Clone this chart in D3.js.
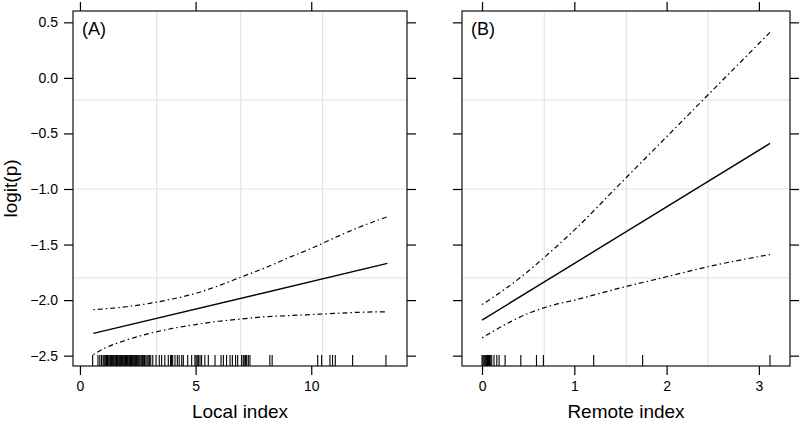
<!DOCTYPE html>
<html>
<head>
<meta charset="utf-8">
<title>logit(p) against Local and Remote index</title>
<script src="https://cdn.jsdelivr.net/npm/d3@7"></script>
<style>
  body { margin: 0; background: #fff; }
  svg text { font-family: "Liberation Sans", Arial, Helvetica, sans-serif; fill: #000; }
</style>
</head>
<body>
<script>
// ---- data ----
const yTicks = [0.5, 0.0, -0.5, -1.0, -1.5, -2.0, -2.5];
const yGrid = [-0.2, -1.0, -1.8];

// panel A: Local index
const localTicks = [0, 5, 10];
const localGrid = [3.32, 6.95, 10.49];
const localFitX = [0.58, 13.29];
const localFitY = [-2.30, -1.67];
const localBandX = [0.58, 1, 2, 3, 4, 5, 6, 7, 8, 9, 10, 11, 12, 13.29];
const localUpper = [-2.085, -2.08, -2.06, -2.03, -1.99, -1.94, -1.87, -1.79, -1.71, -1.62, -1.535, -1.44, -1.35, -1.25];
const localLower = [-2.49, -2.44, -2.36, -2.30, -2.255, -2.22, -2.19, -2.17, -2.15, -2.14, -2.13, -2.12, -2.11, -2.105];
const localRug = [0.55, 0.78, 0.86, 0.93, 1.00, 1.04, 1.08, 1.12, 1.15, 1.19, 1.22, 1.26, 1.30, 1.33,
  1.37, 1.40, 1.44, 1.47, 1.51, 1.55, 1.58, 1.62, 1.65, 1.69, 1.72, 1.76, 1.80, 1.83, 1.87, 1.90,
  1.94, 1.97, 2.01, 2.05, 2.08, 2.12, 2.15, 2.19, 2.23, 2.26, 2.30, 2.33, 2.37, 2.41, 2.44, 2.48,
  2.52, 2.56, 2.60, 2.65, 2.70, 2.74, 2.79, 2.85, 2.90, 2.95, 3.00, 3.06, 3.15, 3.29, 3.43, 3.53,
  3.67, 3.82, 3.92, 3.96, 4.01, 4.11, 4.21, 4.29, 4.40, 4.47, 4.66, 4.83, 4.97, 5.02, 5.07, 5.12,
  5.19, 5.26, 5.40, 5.55, 5.84, 6.10, 6.20, 6.34, 6.49, 6.59, 6.73, 6.82, 6.99, 7.06, 7.10, 7.16,
  7.21, 7.28, 7.35, 8.21, 8.31, 10.28, 10.45, 10.81, 10.92, 11.04, 11.79, 13.23];

// panel B: Remote index
const remoteTicks = [0, 1, 2, 3];
const remoteGrid = [0.675, 1.565, 2.45];
const remoteFitX = [0, 3.12];
const remoteFitY = [-2.18, -0.59];
const remoteBandX = [0, 0.25, 0.5, 0.75, 1, 1.5, 2, 2.5, 3.12];
const remoteUpper = [-2.04, -1.90, -1.74, -1.56, -1.37, -0.95, -0.53, -0.11, 0.41];
const remoteLower = [-2.34, -2.22, -2.12, -2.05, -2.00, -1.89, -1.79, -1.69, -1.59];
const remoteRug = [0.0, 0.01, 0.02, 0.03, 0.04, 0.05, 0.06, 0.07, 0.08, 0.09,
  0.105, 0.13, 0.16, 0.185, 0.25, 0.42, 0.59, 0.665, 1.21, 1.74, 3.12];

// ---- layout ----
const W = 802, H = 425;
const plotTop = 11, plotBottom = 366;

const svg = d3.select("body").append("svg")
  .attr("width", W).attr("height", H);

const y = d3.scaleLinear().domain([-2.593, 0.602]).range([plotBottom, plotTop]);

const panels = [
  { label: "(A)", title: "Local index", left: 73, right: 407, domain: [-0.30, 14.14],
    ticks: localTicks, grid: localGrid, fitX: localFitX, fitY: localFitY,
    bandX: localBandX, upper: localUpper, lower: localLower, rug: localRug, yLabels: true },
  { label: "(B)", title: "Remote index", left: 462, right: 790, domain: [-0.217, 3.337],
    ticks: remoteTicks, grid: remoteGrid, fitX: remoteFitX, fitY: remoteFitY,
    bandX: remoteBandX, upper: remoteUpper, lower: remoteLower, rug: remoteRug, yLabels: false }
];

const tickLen = 9;

panels.forEach(function (p) {
  const x = d3.scaleLinear().domain(p.domain).range([p.left, p.right]);
  const g = svg.append("g");

  // grid
  g.selectAll(".vg").data(p.grid).enter().append("line")
    .attr("x1", d => x(d)).attr("x2", d => x(d))
    .attr("y1", plotTop).attr("y2", plotBottom)
    .attr("stroke", "#e4e4e4").attr("stroke-width", 1.2);
  g.selectAll(".hg").data(yGrid).enter().append("line")
    .attr("x1", p.left).attr("x2", p.right)
    .attr("y1", d => y(d)).attr("y2", d => y(d))
    .attr("stroke", "#e4e4e4").attr("stroke-width", 1.2);

  // axes: ticks outside on all four sides
  const axB = g.append("g").attr("transform", "translate(0," + plotBottom + ")")
    .call(d3.axisBottom(x).tickValues(p.ticks).tickSize(tickLen).tickPadding(6).tickFormat(d3.format("d")));
  const axT = g.append("g").attr("transform", "translate(0," + plotTop + ")")
    .call(d3.axisTop(x).tickValues(p.ticks).tickSize(tickLen).tickFormat(""));
  const axL = g.append("g").attr("transform", "translate(" + p.left + ",0)")
    .call(d3.axisLeft(y).tickValues(yTicks).tickSize(tickLen).tickPadding(6)
      .tickFormat(p.yLabels ? (d => d3.format(".1f")(d).replace("-", "\u2212")) : ""));
  const axR = g.append("g").attr("transform", "translate(" + p.right + ",0)")
    .call(d3.axisRight(y).tickValues(yTicks).tickSize(tickLen).tickFormat(""));
  [axB, axT, axL, axR].forEach(function (a) {
    a.select(".domain").remove();
    a.selectAll("line").attr("stroke", "#000").attr("stroke-width", 1.2);
    a.selectAll("text").style("font-size", "14px").attr("fill", "#000");
  });

  // rug
  g.selectAll(".rug").data(p.rug).enter().append("line")
    .attr("x1", d => x(d)).attr("x2", d => x(d))
    .attr("y1", plotBottom).attr("y2", plotBottom - 11)
    .attr("stroke", "#000").attr("stroke-width", 1.1);

  // fitted line and confidence limits
  const fit = p.fitX.map((v, i) => [v, p.fitY[i]]);
  const up = p.bandX.map((v, i) => [v, p.upper[i]]);
  const lo = p.bandX.map((v, i) => [v, p.lower[i]]);
  const line = d3.line().x(d => x(d[0])).y(d => y(d[1])).curve(d3.curveMonotoneX);

  g.append("path").datum(fit).attr("d", line)
    .attr("fill", "none").attr("stroke", "#000").attr("stroke-width", 1.4);
  [up, lo].forEach(function (b) {
    g.append("path").datum(b).attr("d", line)
      .attr("fill", "none").attr("stroke", "#000").attr("stroke-width", 1.2)
      .attr("stroke-dasharray", "1.5,3,5,3");
  });

  // frame
  g.append("rect")
    .attr("x", p.left).attr("y", plotTop)
    .attr("width", p.right - p.left).attr("height", plotBottom - plotTop)
    .attr("fill", "none").attr("stroke", "#111").attr("stroke-width", 1.2);

  // panel label
  g.append("text").attr("x", p.left + 9).attr("y", 35)
    .style("font-size", "18px").text(p.label);

  // x title
  g.append("text").attr("x", (p.left + p.right) / 2).attr("y", 418)
    .attr("text-anchor", "middle").style("font-size", "19px").text(p.title);
});

// y title
svg.append("text")
  .attr("transform", "translate(17," + ((plotTop + plotBottom) / 2) + ") rotate(-90)")
  .attr("text-anchor", "middle").style("font-size", "19px").text("logit(p)");
</script>
</body>
</html>
